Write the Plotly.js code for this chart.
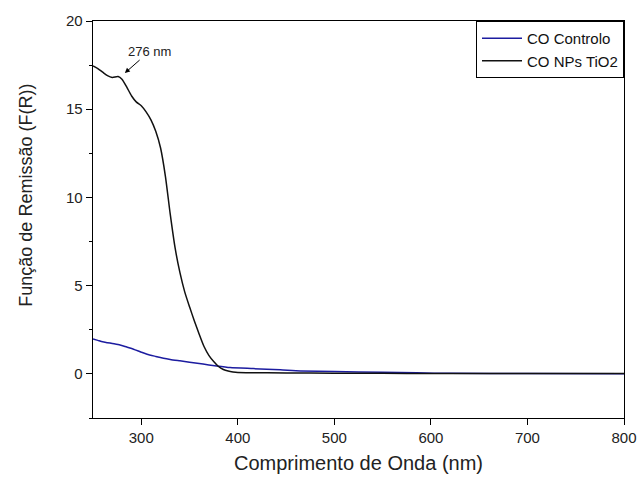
<!DOCTYPE html>
<html>
<head>
<meta charset="utf-8">
<script src="https://cdn.plot.ly/plotly-3.0.1.min.js"></script>
<style>html,body{margin:0;padding:0;background:#fff;}#chart{width:640px;height:479px;}</style>
</head>
<body>
<div id="chart"></div>
<script>
// CO NPs TiO2 (black)
const waveTiO2 = [250,255,260,265,270,276,280,285,290,295,300,305,310,315,320,325,330,335,340,345,350,355,360,365,370,375,380,385,390,395,400,410,450,500,550,600,650,700,750,800];
const fTiO2    = [17.45,17.3,17.1,16.9,16.8,16.85,16.7,16.25,15.75,15.4,15.2,14.85,14.4,13.75,12.8,11.2,9.05,7.15,5.75,4.65,3.8,3.0,2.25,1.55,1.05,0.7,0.42,0.25,0.16,0.11,0.08,0.07,0.05,0.04,0.03,0.02,0.02,0.02,0.02,0.02];
// CO Controlo (blue)
const waveCtrl = [250,255,260,265,270,278,285,292,300,306,315,323,330,340,350,358,370,378,392,416,444,465,500,550,585,620,700,800];
const fCtrl    = [1.98,1.9,1.82,1.77,1.72,1.64,1.52,1.40,1.23,1.11,0.99,0.89,0.82,0.74,0.66,0.60,0.51,0.45,0.36,0.30,0.23,0.17,0.13,0.09,0.06,0.03,0.02,0.01];
const seriesNames = ["CO Controlo", "CO NPs TiO2"];
const xTitle = "Comprimento de Onda (nm)";
const yTitle = "Função de Remissão (F(R))";
const peakLabel = "276 nm";
const peakPoint = [283, 17.05];

const font = "Arial, 'Liberation Sans', sans-serif";
const traces = [
  {x: waveCtrl, y: fCtrl, name: seriesNames[0], type: "scatter", mode: "lines",
   line: {color: "#1c1ca0", width: 1.5, shape: "spline", smoothing: 0.6}},
  {x: waveTiO2, y: fTiO2, name: seriesNames[1], type: "scatter", mode: "lines",
   line: {color: "#111111", width: 1.5, shape: "spline", smoothing: 0.6}}
];
const layout = {
  width: 640, height: 479,
  margin: {l: 93, r: 16, t: 21, b: 61},
  paper_bgcolor: "#fff", plot_bgcolor: "#fff",
  font: {family: font, color: "#222", size: 15},
  showlegend: true,
  legend: {x: 1, y: 1, xanchor: "right", yanchor: "top", bordercolor: "#000", borderwidth: 1,
           bgcolor: "#fff", font: {size: 15, color: "#111"}, itemwidth: 40, tracegroupgap: 0},
  xaxis: {range: [250, 800], dtick: 100, tick0: 0, showgrid: false, zeroline: false,
          showline: true, linecolor: "#000", linewidth: 1.3, mirror: true,
          ticks: "outside", ticklen: 6, tickcolor: "#000", tickwidth: 1,
          tickfont: {size: 15, color: "#222"},
          title: {text: xTitle, font: {size: 20, color: "#222"}, standoff: 10}},
  yaxis: {range: [-2.5, 20], dtick: 5, tick0: 0, showgrid: false, zeroline: false,
          showline: true, linecolor: "#000", linewidth: 1.3, mirror: true,
          ticks: "outside", ticklen: 6, tickcolor: "#000", tickwidth: 1,
          minor: {dtick: 2.5, ticks: "outside", ticklen: 3, tickcolor: "#000", showgrid: false},
          tickfont: {size: 15, color: "#222"}},
  annotations: [
    {x: peakPoint[0], y: peakPoint[1], xref: "x", yref: "y", text: peakLabel,
     showarrow: true, arrowhead: 2, arrowsize: 1, arrowwidth: 1, arrowcolor: "#000",
     ax: 25, ay: -22, font: {size: 13, color: "#222"}},
    {xref: "paper", yref: "paper", x: -93/531, xanchor: "left", y: 0.56, yanchor: "middle",
     text: yTitle, textangle: -90, showarrow: false, xshift: 14,
     font: {size: 18, color: "#222"}}
  ]
};
Plotly.newPlot("chart", traces, layout, {displayModeBar: false, staticPlot: true});
</script>
</body>
</html>
